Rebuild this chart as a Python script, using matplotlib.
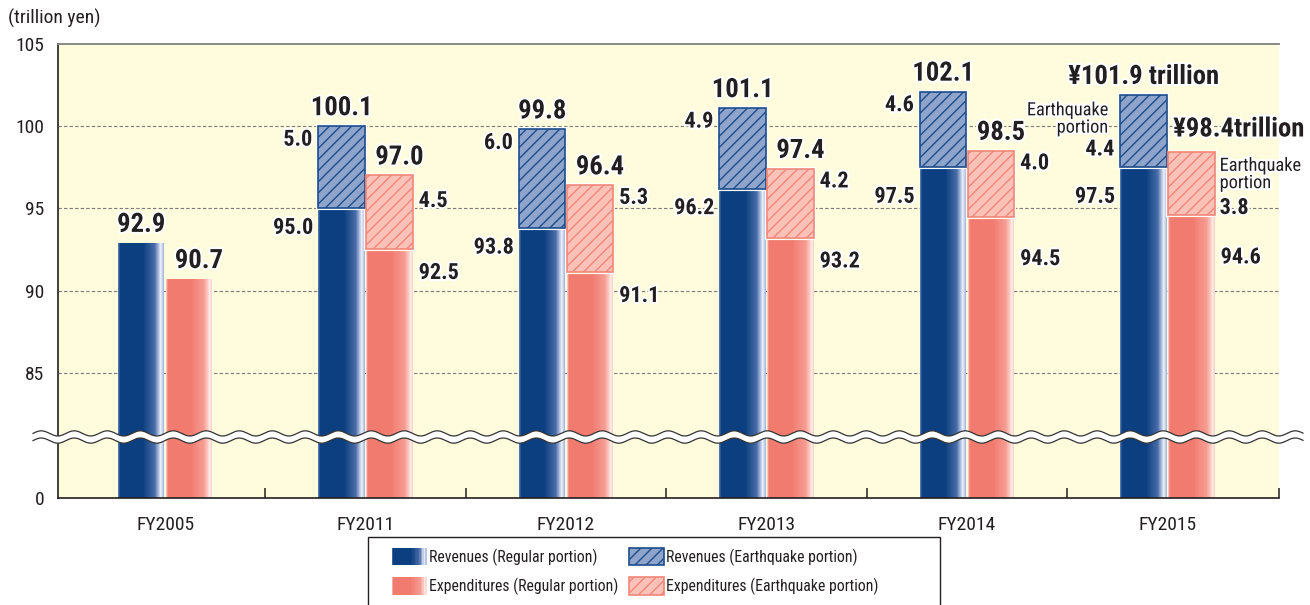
import numpy as np
import matplotlib
matplotlib.use('Agg')
import matplotlib.pyplot as plt
from matplotlib.patches import Rectangle, Polygon
from matplotlib.legend_handler import HandlerBase
import matplotlib.transforms as mtransforms
from matplotlib.colors import LinearSegmentedColormap
import matplotlib.patheffects as pe

# ---------------- data ----------------
years = ['FY2005', 'FY2011', 'FY2012', 'FY2013', 'FY2014', 'FY2015']
rev_regular = [92.9, 95.0, 93.8, 96.2, 97.5, 97.5]
rev_quake = [0.0, 5.0, 6.0, 4.9, 4.6, 4.4]
rev_total_labels = ['92.9', '100.1', '99.8', '101.1', '102.1', '¥101.9 trillion']
exp_regular = [90.7, 92.5, 91.1, 93.2, 94.5, 94.6]
exp_quake = [0.0, 4.5, 5.3, 4.2, 4.0, 3.8]
exp_total_labels = ['90.7', '97.0', '96.4', '97.4', '98.5', '¥98.4trillion']
y_ticks = [0, 85, 90, 95, 100, 105]
y_tick_labels = ['0', '85', '90', '95', '100', '105']
legend_labels = ['Revenues (Regular portion)', 'Expenditures (Regular portion)',
                 'Revenues (Earthquake portion)', 'Expenditures (Earthquake portion)']

# ---------------- style ----------------
FONT = ['Roboto Condensed', 'Liberation Sans Narrow', 'DejaVu Sans']
plt.rcParams['font.family'] = FONT
plt.rcParams['hatch.linewidth'] = 1.0
NAVY = '#0b3f80'
SALMON = '#f27b70'
REV_Q_FACE = '#8fa4cb'
REV_Q_EDGE = '#1d4d8c'
EXP_Q_FACE = '#fcc2b8'
EXP_Q_EDGE = '#f28678'
BG = '#fffbdd'
TXT = '#231f20'

rev_stops = [(0.0, '#5b7fb5'), (0.05, NAVY), (0.55, NAVY), (0.8, '#4a6ca8'),
             (0.88, '#a9bbdd'), (0.93, '#eef2fa'), (0.97, '#c2cfe8'), (1.0, '#9fb3da')]
exp_stops = [(0.0, '#fcd8d2'), (0.04, SALMON), (0.55, SALMON), (0.82, '#f69c92'),
             (0.9, '#fbc6bd'), (0.95, '#fde9e5'), (1.0, '#fbd3cc')]

W, H = 1310, 605
fig = plt.figure(figsize=(W / 100, H / 100), dpi=100)
fig.patch.set_facecolor('white')
ax = fig.add_axes([58 / W, 1 - 498 / H, (1279 - 58) / W, (498 - 44) / H])
ax.set_facecolor(BG)

# broken y axis: 0..85 compressed, 85..105 linear
LOW = 77.38


def fwd(v):
    v = np.asarray(v, dtype=float)
    return np.where(v >= 85, v, LOW + v * (85 - LOW) / 85)


def inv(u):
    u = np.asarray(u, dtype=float)
    return np.where(u >= 85, u, (u - LOW) * 85 / (85 - LOW))


ax.set_yscale('function', functions=(fwd, inv))
ax.set_ylim(0, 105)
n = len(years)
x = np.arange(n)
ax.set_xlim(-0.534, 5.556)
bw = 0.232


def grad_bar(xc, height, stops, nstrip=46):
    cmap = LinearSegmentedColormap.from_list('g', stops)
    edges = np.linspace(xc - bw / 2, xc + bw / 2, nstrip + 1)
    cols = [cmap((i + 0.5) / nstrip) for i in range(nstrip)]
    ax.bar(edges[:-1], [height] * nstrip, width=np.diff(edges) * 1.02, align='edge',
           color=cols, linewidth=0, zorder=2)


rev_x = x - bw / 2 - 0.003
exp_x = x + bw / 2 + 0.003

for i in range(n):
    grad_bar(rev_x[i], rev_regular[i], rev_stops)
    grad_bar(exp_x[i], exp_regular[i], exp_stops)
    if rev_quake[i] > 0:
        ax.bar(rev_x[i], rev_quake[i], bottom=rev_regular[i], width=bw, color='none',
               edgecolor='white', linewidth=3.0, zorder=2.5)
        ax.bar(rev_x[i], rev_quake[i], bottom=rev_regular[i], width=bw, facecolor=REV_Q_FACE,
               edgecolor=REV_Q_EDGE, linewidth=1.2, hatch='///', zorder=3)
    if exp_quake[i] > 0:
        ax.bar(exp_x[i], exp_quake[i], bottom=exp_regular[i], width=bw, color='none',
               edgecolor='white', linewidth=3.0, zorder=2.5)
        ax.bar(exp_x[i], exp_quake[i], bottom=exp_regular[i], width=bw, facecolor=EXP_Q_FACE,
               edgecolor=EXP_Q_EDGE, linewidth=1.2, hatch='///', zorder=3)

# ---------------- axes styling ----------------
ax.spines['right'].set_visible(False)
ax.spines['top'].set_color('#7f7f7f')
ax.spines['top'].set_linewidth(1.3)
ax.spines['left'].set_color('#231f20')
ax.spines['bottom'].set_color('#231f20')
ax.spines['left'].set_linewidth(1.2)
ax.spines['bottom'].set_linewidth(1.2)

ax.set_yticks(y_ticks)
ax.set_yticklabels(y_tick_labels)
ax.tick_params(axis='y', length=0, pad=10, labelsize=14, labelcolor=TXT)
for g in [85, 90, 95, 100]:
    ax.axhline(g, color='#7a7a7a', linestyle=(0, (3, 2)), linewidth=0.8, zorder=1)

ax.set_xticks(x)
ax.set_xticklabels(years)
ax.tick_params(axis='x', which='major', length=0, pad=13, labelsize=14, labelcolor=TXT)
ax.set_xticks(list(x[:-1] + 0.5) + [ax.get_xlim()[1] - 0.001], minor=True)
ax.tick_params(axis='x', which='minor', direction='in', length=7.5, width=1.1, color='#231f20')

fig.text(8 / W, 1 - 18 / H, '(trillion yen)', fontsize=14, color=TXT, va='center', ha='left')

# ---------------- labels ----------------
halo = [pe.withStroke(linewidth=3, foreground='white')]
bold_big = dict(fontsize=19.2, fontweight='bold', color=TXT, path_effects=halo, zorder=6)
bold_small = dict(fontsize=16, fontweight='bold', color=TXT, path_effects=halo, zorder=6)
normal = dict(fontsize=13.2, color=TXT, path_effects=halo, zorder=6, linespacing=0.95)


def lab(text, xy, off, ha, va, style):
    ax.annotate(text, xy=xy, xytext=off, textcoords='offset pixels', ha=ha, va=va,
                annotation_clip=False, **style)


for i in range(n):
    rtop = rev_regular[i] + rev_quake[i]
    etop = exp_regular[i] + exp_quake[i]
    last = i == n - 1
    # totals
    lab(rev_total_labels[i], (rev_x[i], rtop), (0, 11), 'center', 'baseline', bold_big)
    if last:
        lab(exp_total_labels[i], (exp_x[i] - bw / 2, etop), (5, 16), 'left', 'baseline', bold_big)
    else:
        lab(exp_total_labels[i], (exp_x[i], etop), (10, 11), 'center', 'baseline', bold_big)
    # regular / earthquake portions (not for FY2005)
    if rev_quake[i] > 0:
        dr = -27 if i >= 4 else -17
        lab(f'{rev_regular[i]:.1f}', (rev_x[i] - bw / 2, rev_regular[i]), (-5, dr), 'right', 'center_baseline', bold_small)
        de = -40 if i >= 4 else -21
        lab(f'{exp_regular[i]:.1f}', (exp_x[i] + bw / 2, exp_regular[i]), (6, de), 'left', 'center_baseline', bold_small)
        if last:
            lab('Earthquake\nportion', (rev_x[i] - bw / 2, rtop), (-12, -24), 'right', 'center', normal)
            lab(f'{rev_quake[i]:.1f}', (rev_x[i] - bw / 2, rtop), (-6, -52), 'right', 'center_baseline', bold_small)
            lab('Earthquake\nportion', (exp_x[i] + bw / 2, etop), (5, -22), 'left', 'center', normal)
            lab(f'{exp_quake[i]:.1f}', (exp_x[i] + bw / 2, etop), (5, -53), 'left', 'center_baseline', bold_small)
        else:
            lab(f'{rev_quake[i]:.1f}', (rev_x[i] - bw / 2, rtop), (-6, -11), 'right', 'center_baseline', bold_small)
            dq = -23 if i == 1 else -10
            lab(f'{exp_quake[i]:.1f}', (exp_x[i] + bw / 2, etop), (6, dq), 'left', 'center_baseline', bold_small)

# ---------------- axis break wave ----------------
trans = mtransforms.blended_transform_factory(fig.transFigure, ax.transAxes)
xs = np.linspace(33 / W, 1303 / W, 1200)
period = 33.0 / W
amp = 2.6 / 454
yc = (498 - 437) / 454
half = 3.6 / 454
wave = amp * np.sin(2 * np.pi * (xs - xs[0]) / period)
top = yc + half + wave
bot = yc - half + wave
poly = np.vstack([np.column_stack([xs, top]), np.column_stack([xs[::-1], bot[::-1]])])
ax.add_patch(Polygon(poly, closed=True, facecolor='white', edgecolor='none',
                     transform=trans, clip_on=False, zorder=7))
ax.plot(xs, top, color='#333333', lw=0.9, transform=trans, clip_on=False, zorder=8)
ax.plot(xs, bot, color='#333333', lw=0.9, transform=trans, clip_on=False, zorder=8)

# ---------------- legend ----------------


class GradHandler(HandlerBase):
    def __init__(self, stops):
        super().__init__()
        self.cmap = LinearSegmentedColormap.from_list('lg', stops)

    def create_artists(self, legend, orig_handle, xdescent, ydescent, width, height, fontsize, trans):
        arts = []
        k = 24
        for j in range(k):
            r = Rectangle((-xdescent + width * j / k, -ydescent), width / k * 1.1, height,
                          facecolor=self.cmap((j + 0.5) / k), linewidth=0, transform=trans)
            arts.append(r)
        return arts


h_rev = Rectangle((0, 0), 1, 1)
h_exp = Rectangle((0, 0), 1, 1)
h_revq = Rectangle((0, 0), 1, 1, facecolor=REV_Q_FACE, edgecolor=REV_Q_EDGE, hatch='///', lw=1.2)
h_expq = Rectangle((0, 0), 1, 1, facecolor=EXP_Q_FACE, edgecolor=EXP_Q_EDGE, hatch='///', lw=1.2)
leg = fig.legend([h_rev, h_exp, h_revq, h_expq], legend_labels, ncol=2,
                 loc='upper left', bbox_to_anchor=(392 / W, 1 - 548 / H),
                 handler_map={h_rev: GradHandler(rev_stops), h_exp: GradHandler(exp_stops)},
                 fontsize=11.3, frameon=False,
                 handlelength=2.2, handleheight=1.3, handletextpad=0.15, labelspacing=0.75,
                 columnspacing=0.7, borderpad=0, borderaxespad=0)
for t in leg.get_texts():
    t.set_color(TXT)
fig.add_artist(Rectangle((368 / W, -0.02), (940 - 368) / W, (605 - 537) / H + 0.02,
                         transform=fig.transFigure, fill=False, edgecolor='#231f20', lw=1.0))

fig.savefig('out.png', dpi=100, facecolor='white')
